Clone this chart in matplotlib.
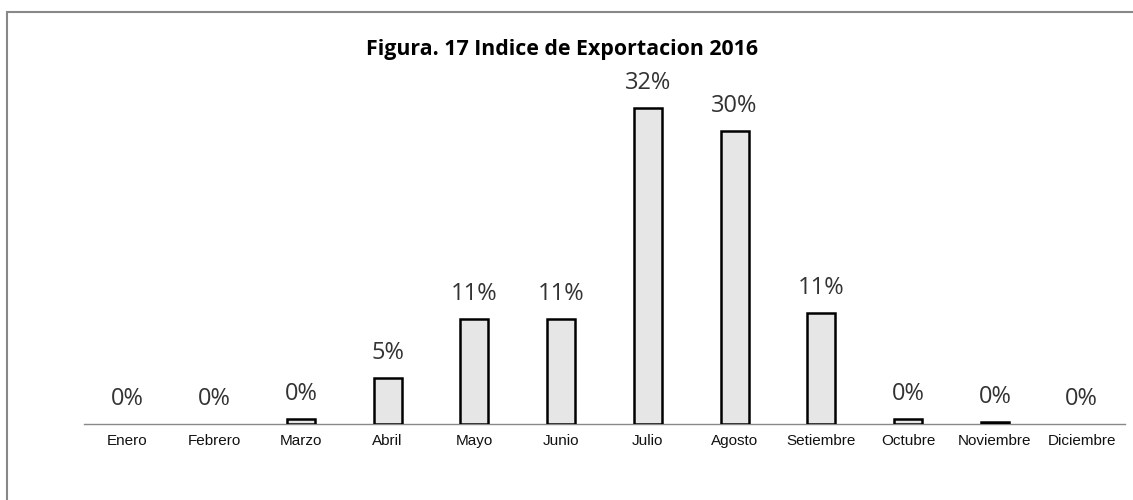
import matplotlib
matplotlib.use("Agg")
import matplotlib.pyplot as plt
from matplotlib.patches import Rectangle
from matplotlib import font_manager

months = ["Enero", "Febrero", "Marzo", "Abril", "Mayo", "Junio", "Julio",
          "Agosto", "Setiembre", "Octubre", "Noviembre", "Diciembre"]
values = [0.0, 0.0, 0.005, 0.046, 0.106, 0.106, 0.319, 0.296, 0.112, 0.005, 0.002, 0.0]
labels = ["0%", "0%", "0%", "5%", "11%", "11%", "32%", "30%", "11%", "0%", "0%", "0%"]
title = "Figura. 17 Indice de Exportacion 2016"

avail = {f.name for f in font_manager.fontManager.ttflist}
tick_font = "Liberation Sans Narrow" if "Liberation Sans Narrow" in avail else "Liberation Sans"

W, H = 1133, 500
fig = plt.figure(figsize=(W / 100, H / 100), dpi=100)
ax = fig.add_axes([84 / W, 76 / H, (1125 - 84) / W, (424 - 50) / H])

x = list(range(len(months)))
lws = [1.8 if v > 0 else 0 for v in values]
ax.bar(x, values, width=0.32, color="#e6e6e6", edgecolor="black", linewidth=lws, zorder=3)
ax.set_xlim(-0.5, len(months) - 0.5)
ax.set_ylim(0, 0.378)

for xi, v, lab in zip(x, values, labels):
    ax.annotate(lab, (xi, v), xytext=(0, 18), textcoords="offset points",
                ha="center", va="center", fontsize=17, family="Open Sans", color="#333333")

for s in ["top", "right", "left"]:
    ax.spines[s].set_visible(False)
ax.spines["bottom"].set_color("#888888")
ax.spines["bottom"].set_linewidth(1.0)
ax.set_yticks([])
ax.set_xticks(x)
ax.set_xticklabels(months, fontsize=11, family=tick_font, color="#111111")
ax.tick_params(axis="x", length=0, pad=7)

fig.text(562 / W, 1 - 50 / H, title, ha="center", va="center", fontsize=15.4,
         fontweight="bold", family="Open Sans", color="black")

fig.patches.append(Rectangle((7 / W, -0.1), 1.2, 1.1 - 12 / H,
                             transform=fig.transFigure, fill=False,
                             edgecolor="#888888", linewidth=1.5))

fig.savefig("out.png", dpi=100)
